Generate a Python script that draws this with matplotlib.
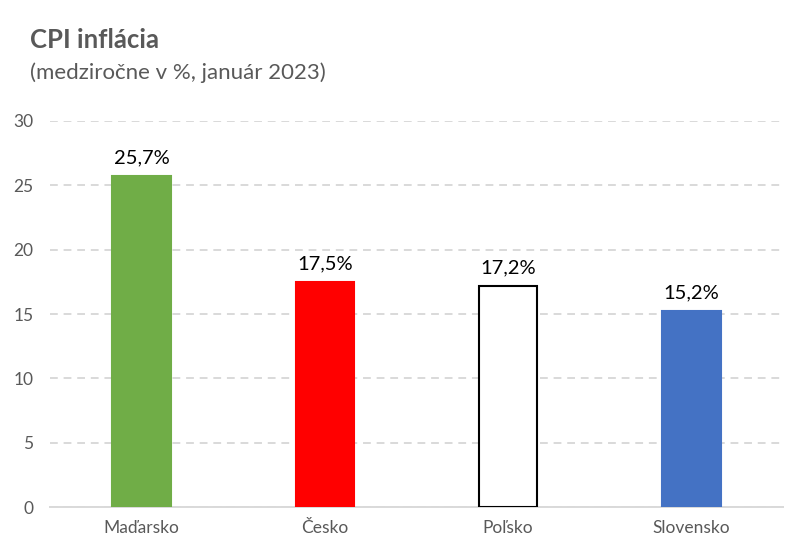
import matplotlib
matplotlib.use("Agg")
import matplotlib.pyplot as plt

categories = ["Maďarsko", "Česko", "Poľsko", "Slovensko"]
values = [25.7, 17.5, 17.2, 15.2]
labels = ["25,7%", "17,5%", "17,2%", "15,2%"]
face_colors = ["#70AD47", "#FF0000", "#FFFFFF", "#4472C4"]
edge_colors = ["#70AD47", "#FF0000", "#000000", "#4472C4"]
yticks = [0, 5, 10, 15, 20, 25, 30]

plt.rcParams['font.family'] = ['Lato', 'DejaVu Sans']

fig = plt.figure(figsize=(8.07, 5.56), dpi=100)
ax = fig.add_axes([0.062, 0.0881, 0.908, 0.6943])

x = list(range(len(categories)))
bars = ax.bar(x, values, width=0.32, color=face_colors, edgecolor=edge_colors,
              linewidth=1.5, zorder=3)
for xi, v, lab in zip(x, values, labels):
    ax.annotate(lab, (xi, v), xytext=(0, 7), textcoords="offset points",
                ha="center", va="bottom", fontsize=14.5, color="black")

ax.set_xlim(-0.5, len(categories) - 0.5)
ax.set_ylim(0, 30)
ax.set_yticks(yticks)
ax.set_xticks(x)
ax.set_xticklabels(categories)
ax.tick_params(axis="both", length=0, labelsize=12.5, colors="#595959")
ax.tick_params(axis="y", pad=12)
ax.tick_params(axis="x", pad=9)
ax.yaxis.grid(True, color="#D9D9D9", linestyle=(0, (4, 3)), linewidth=1.4, zorder=0)
for s in ["top", "right", "left"]:
    ax.spines[s].set_visible(False)
ax.spines["bottom"].set_color("#D9D9D9")
ax.spines["bottom"].set_linewidth(1.4)

fig.text(30 / 807, 1 - 40 / 556, "CPI inflácia", fontsize=18.5, fontweight="bold",
         color="#595959", va="center", ha="left")
fig.text(30 / 807, 1 - 73 / 556, "(medziročne v %, január 2023)", fontsize=16,
         color="#595959", va="center", ha="left")

fig.savefig("out.png", dpi=100)
